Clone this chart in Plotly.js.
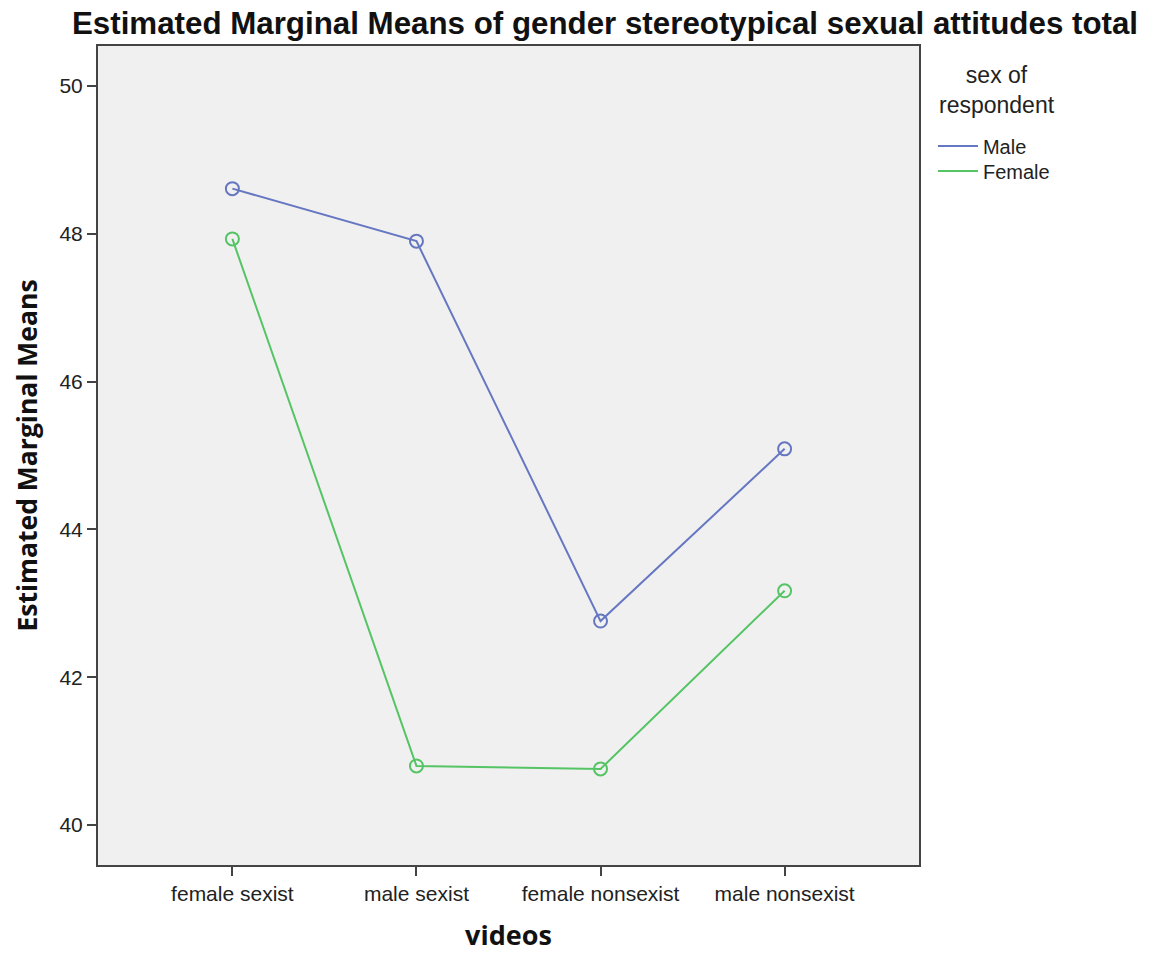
<!DOCTYPE html>
<html>
<head>
<meta charset="utf-8">
<script src="https://cdn.plot.ly/plotly-3.0.1.min.js"></script>
<style>html,body{margin:0;padding:0;background:#fff;}#chart{width:1154px;height:953px;}</style>
</head>
<body>
<div id="chart"></div>
<script>
const categories = ["female sexist", "male sexist", "female nonsexist", "male nonsexist"];
const maleMeans = [48.61, 47.90, 42.76, 45.09];
const femaleMeans = [47.93, 40.80, 40.76, 43.17];
const yTicks = [40, 42, 44, 46, 48, 50];
const legendTitle = "sex of<br>respondent";

const maleColor = "#6677C2";
const femaleColor = "#55C464";

const traces = [
  {x: categories, y: maleMeans, type: "scatter", mode: "lines+markers", name: "Male", showlegend: false,
   line: {color: maleColor, width: 2}, marker: {symbol: "circle-open", size: 13, color: maleColor, line: {width: 2, color: maleColor}}},
  {x: categories, y: femaleMeans, type: "scatter", mode: "lines+markers", name: "Female", showlegend: false,
   line: {color: femaleColor, width: 2}, marker: {symbol: "circle-open", size: 13, color: femaleColor, line: {width: 2, color: femaleColor}}},
  {x: [null], y: [null], type: "scatter", mode: "lines", name: "Male", legend: "legend", line: {color: maleColor, width: 2}},
  {x: [null], y: [null], type: "scatter", mode: "lines", name: "Female", legend: "legend2", line: {color: femaleColor, width: 2}}
];

const legendBase = {
  x: 1.017, xanchor: "left", yanchor: "middle",
  bgcolor: "rgba(0,0,0,0)",
  font: {size: 20, color: "#222"},
  tracegroupgap: 0, itemwidth: 40
};

const layout = {
  width: 1154, height: 953,
  paper_bgcolor: "#ffffff", plot_bgcolor: "#F0F0F0",
  margin: {l: 98, r: 235, t: 46, b: 88},
  font: {family: "Liberation Sans, Arial, sans-serif", color: "#222"},
  title: {text: "<b>Estimated Marginal Means of gender stereotypical sexual attitudes total</b>",
          font: {size: 31.3, color: "#111", family: "Liberation Sans, Arial, sans-serif"},
          x: 605 / 1154, xref: "container", xanchor: "center", y: 1 - 23 / 953, yref: "container", yanchor: "middle"},
  xaxis: {
    type: "category", categoryorder: "array", categoryarray: categories,
    range: [-0.73, 3.73],
    showgrid: false, zeroline: false,
    showline: true, linecolor: "#444", linewidth: 2, mirror: true,
    ticks: "outside", ticklen: 9, tickwidth: 2, tickcolor: "#444",
    tickfont: {size: 21, color: "#222"},
    title: {text: "<b>videos</b>", font: {size: 27, color: "#111", family: "Open Sans, sans-serif"}, standoff: 26}
  },
  yaxis: {
    range: [39.46, 50.54],
    tickvals: yTicks,
    showgrid: false, zeroline: false,
    showline: true, linecolor: "#444", linewidth: 2, mirror: true,
    ticks: "outside", ticklen: 9, tickwidth: 2, tickcolor: "#444",
    tickfont: {size: 21, color: "#222"},
    title: {text: "<b>Estimated Marginal Means</b>", font: {size: 26.5, color: "#111", family: "Open Sans, sans-serif"}, standoff: 14}
  },
  legend: Object.assign({}, legendBase, {y: 1 - (146 - 46) / 819}),
  legend2: Object.assign({}, legendBase, {y: 1 - (171 - 46) / 819}),
  annotations: [{
    text: legendTitle, xref: "paper", yref: "paper", x: (997 - 98) / 821, y: 1 - (90 - 46) / 819,
    xanchor: "center", yanchor: "middle", align: "center", showarrow: false, font: {size: 23, color: "#222"}
  }],
  showlegend: true
};

Plotly.newPlot("chart", traces, layout, {displayModeBar: false, staticPlot: true});
</script>
</body>
</html>
